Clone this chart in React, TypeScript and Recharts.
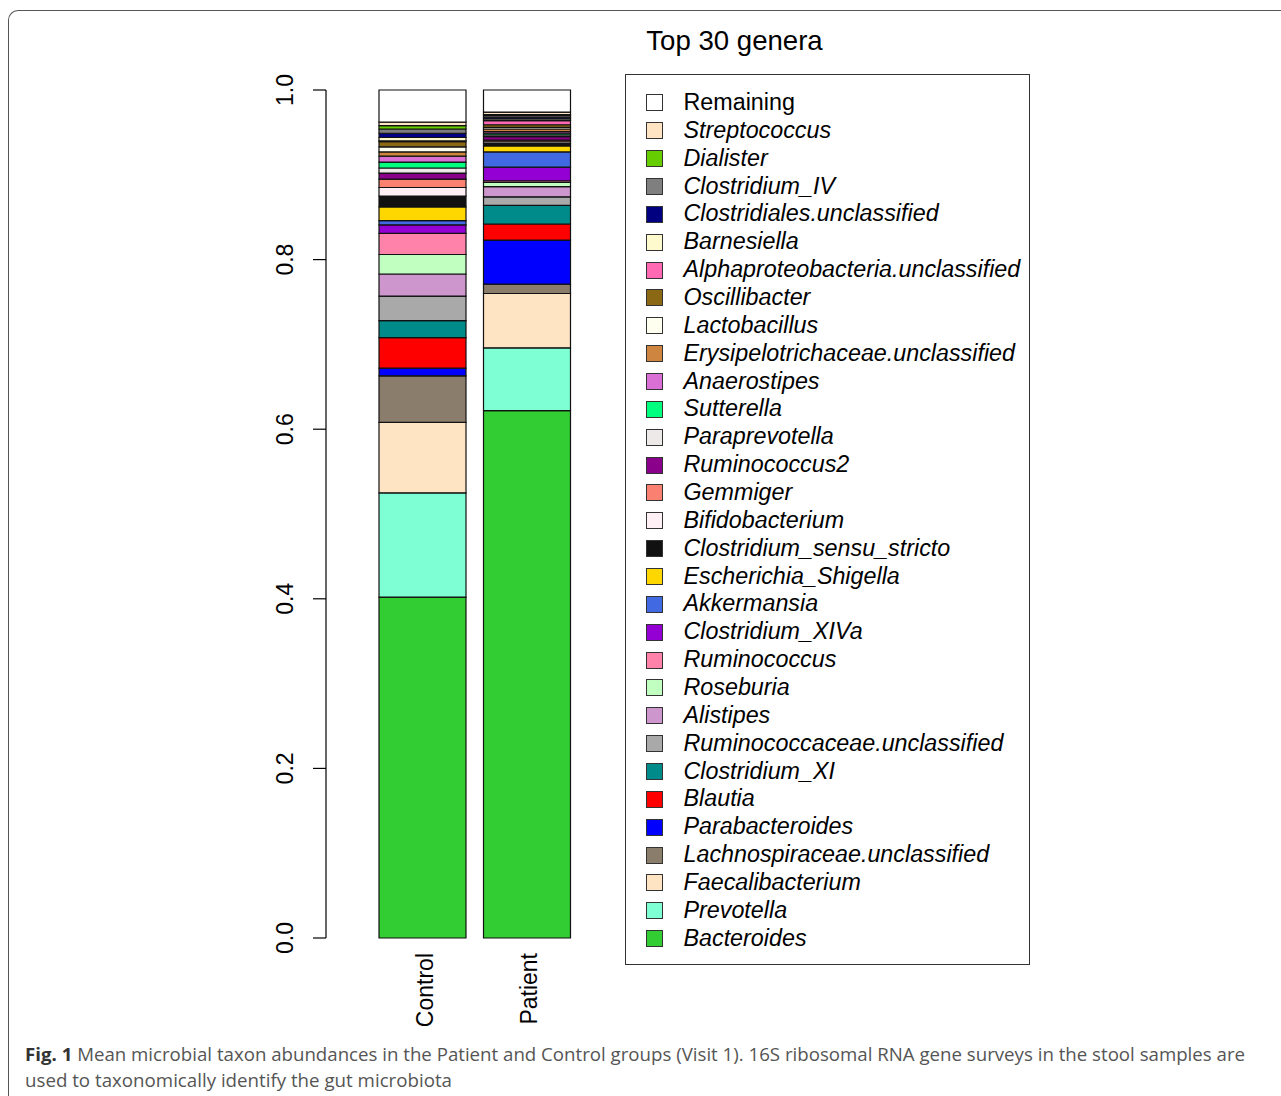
import React from 'react';
import { BarChart, Bar, XAxis, YAxis } from 'recharts';

// Bottom-to-top stacking order
const genera = [
  'Bacteroides', 'Prevotella', 'Faecalibacterium', 'Lachnospiraceae.unclassified',
  'Parabacteroides', 'Blautia', 'Clostridium_XI', 'Ruminococcaceae.unclassified',
  'Alistipes', 'Roseburia', 'Ruminococcus', 'Clostridium_XIVa', 'Akkermansia',
  'Escherichia_Shigella', 'Clostridium_sensu_stricto', 'Bifidobacterium', 'Gemmiger',
  'Ruminococcus2', 'Paraprevotella', 'Sutterella', 'Anaerostipes',
  'Erysipelotrichaceae.unclassified', 'Lactobacillus', 'Oscillibacter',
  'Alphaproteobacteria.unclassified', 'Barnesiella', 'Clostridiales.unclassified',
  'Clostridium_IV', 'Dialister', 'Streptococcus', 'Remaining',
];

const colors = [
  '#32CD32', '#7FFFD4', '#FFE4C4', '#8B7D6B',
  '#0000FF', '#FF0000', '#008B8B', '#A9A9A9',
  '#CD96CD', '#C1FFC1', '#FF82AB', '#9400D3', '#4169E1',
  '#FFD700', '#111111', '#FFF0F5', '#FA8072',
  '#8B008B', '#EEE9E9', '#00FF7F', '#DA70D6',
  '#CD853F', '#FFFFF0', '#8B6914',
  '#FF69B4', '#FFFACD', '#000080',
  '#7F7F7F', '#66CD00', '#FFE4C4', '#FFFFFF',
];

const groups = ['Control', 'Patient'];

const controlValues = [
  0.402, 0.123, 0.083, 0.055, 0.009, 0.036, 0.020, 0.029, 0.026, 0.023, 0.025,
  0.010, 0.005, 0.016, 0.013, 0.010, 0.010, 0.007, 0.006, 0.007, 0.007, 0.005,
  0.006, 0.006, 0.001, 0.004, 0.005, 0.005, 0.004, 0.004, 0.038,
];

const patientValues = [
  0.622, 0.074, 0.064, 0.011, 0.052, 0.019, 0.022, 0.010, 0.012, 0.005, 0.002,
  0.016, 0.018, 0.007, 0.003, 0.002, 0.002, 0.004, 0.002, 0.002, 0.002, 0.003,
  0.002, 0.003, 0.005, 0.002, 0.002, 0.002, 0.001, 0.003, 0.026,
];

const yTicks = [0, 0.2, 0.4, 0.6, 0.8, 1.0];

const data = groups.map((g, gi) => {
  const row: Record<string, number | string> = { name: g };
  const vals = gi === 0 ? controlValues : patientValues;
  genera.forEach((k, i) => { row[k] = vals[i]; });
  return row;
});

const FONT = '"Liberation Sans", Arial, Helvetica, sans-serif';
const CAPFONT = '"Open Sans", "Noto Sans", sans-serif';

const YTick = (props: any) => {
  const { x, y, payload } = props;
  const bx = x - 20;
  return (
    <text x={bx} y={y} transform={`rotate(-90 ${bx} ${y})`} textAnchor="middle"
      fontSize={23} fontFamily={FONT} fill="#000">
      {Number(payload.value).toFixed(1)}
    </text>
  );
};

const XTick = (props: any) => {
  const { x, y, payload } = props;
  const bx = x + 10.5;
  return (
    <text x={bx} y={y} transform={`rotate(-90 ${bx} ${y})`} textAnchor="end"
      fontSize={23} fontFamily={FONT} fill="#000">
      {payload.value}
    </text>
  );
};

export default function App() {
  const legendItems = genera.map((g, i) => ({ name: g, color: colors[i] })).reverse();
  return (
    <div style={{ position: 'absolute', left: 0, top: 0, width: 1281, height: 1096, overflow: 'hidden', background: '#fff' }}>
      <div style={{
        position: 'absolute', left: 8, top: 10, width: 1400, height: 1200,
        borderTop: '1.5px solid #555', borderLeft: '1.5px solid #555', borderTopLeftRadius: 10,
        boxSizing: 'border-box',
      }} />
      <div style={{ position: 'absolute', left: 0, top: 0 }}>
        <BarChart width={1281} height={1096} data={data} barSize={87}
          margin={{ top: 90, right: 681, bottom: 58, left: 266 }}>
          <XAxis dataKey="name" type="category" axisLine={false} tickLine={false}
            tickSize={0} tickMargin={15} height={100} padding={{ left: 44, right: 21 }}
            tick={<XTick />} interval={0} />
          <YAxis type="number" domain={[0, 1]} ticks={yTicks} width={60}
            axisLine={{ stroke: '#000', strokeWidth: 1.2 }} tickLine={{ stroke: '#000', strokeWidth: 1.2 }}
            tickSize={13} tickMargin={0} tick={<YTick />} interval={0} />
          {genera.map((g, i) => (
            <Bar key={g} dataKey={g} stackId="a" fill={colors[i]} stroke="#111"
              strokeWidth={1.2} isAnimationActive={false} />
          ))}
        </BarChart>
      </div>
      <svg width={1281} height={1096} style={{ position: 'absolute', left: 0, top: 0, pointerEvents: 'none' }}>
        <text x={734.5} y={50} textAnchor="middle" fontSize={27.6} fontFamily={FONT} fill="#000">Top 30 genera</text>
        <text x={25} y={1061} fontSize={18.6} fontFamily={CAPFONT} fill="#555"
          textLength={1220} lengthAdjust="spacingAndGlyphs">
          <tspan fontWeight="bold" fill="#333">Fig. 1</tspan> Mean microbial taxon abundances in the Patient and Control groups (Visit 1). 16S ribosomal RNA gene surveys in the stool samples are
        </text>
        <text x={25} y={1087} fontSize={18.6} fontFamily={CAPFONT} fill="#555"
          textLength={427} lengthAdjust="spacingAndGlyphs">
          used to taxonomically identify the gut microbiota
        </text>
      </svg>
      <div style={{
        position: 'absolute', left: 625, top: 74, width: 405, height: 891, boxSizing: 'border-box',
        border: '1.5px solid #333', paddingTop: 14, paddingLeft: 19.5,
        fontFamily: FONT, fontSize: 23.3, color: '#000',
      }}>
        {legendItems.map((it) => (
          <div key={it.name} style={{ height: 27.86, display: 'flex', alignItems: 'center', whiteSpace: 'nowrap' }}>
            <span style={{
              display: 'inline-block', width: 17, height: 17, boxSizing: 'border-box',
              background: it.color, border: '1.3px solid #333', marginRight: 21, flex: '0 0 auto',
            }} />
            <span style={{ fontStyle: it.name === 'Remaining' ? 'normal' : 'italic', lineHeight: '27.86px' }}>{it.name}</span>
          </div>
        ))}
      </div>
    </div>
  );
}
